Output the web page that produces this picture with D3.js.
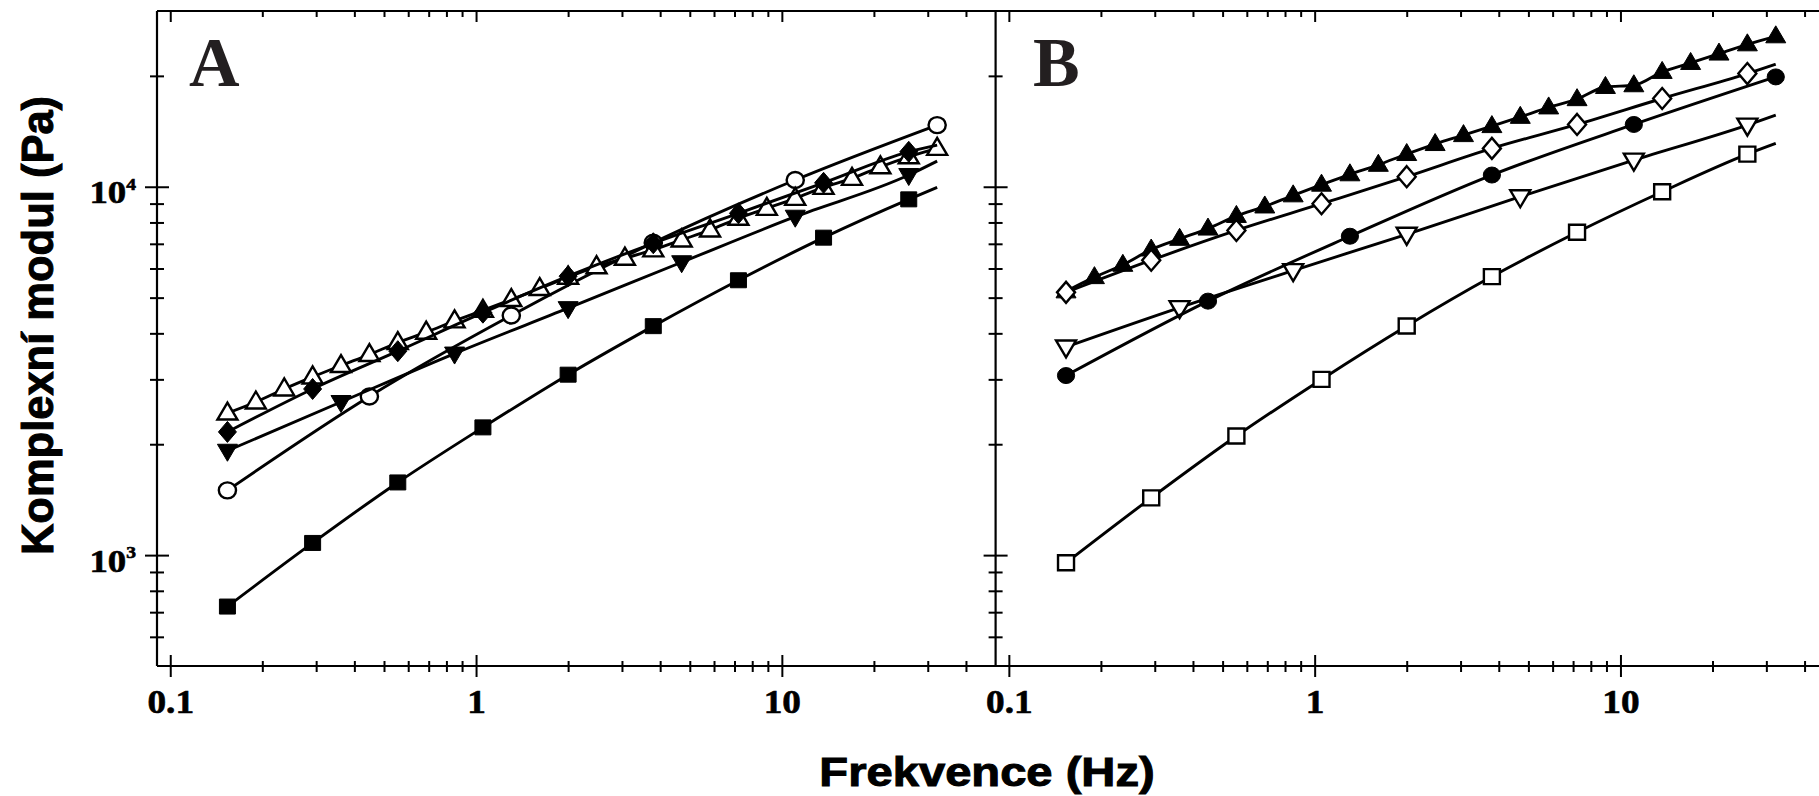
<!DOCTYPE html>
<html>
<head>
<meta charset="utf-8">
<script src="https://cdn.jsdelivr.net/npm/d3@7/dist/d3.min.js"></script>
<style>
  body { margin: 0; background: #fff; }
  svg { display: block; }
</style>
</head>
<body>
<svg id="chart"></svg>
<script>
// frequency sweep (Hz), one value per measured point
const freq = [0.1538, 0.1905, 0.2359, 0.2921, 0.3617, 0.4479, 0.5547, 0.6869, 0.8506, 1.053,
  1.304, 1.615, 2.0, 2.477, 3.067, 3.798, 4.703, 5.824, 7.212, 8.93,
  11.06, 13.69, 16.96, 21.0, 26.0, 32.2];

// panel A  (at = index into freq, val = modulus in Pa)
const aCircAt = [0, 5, 10, 15, 20, 25];
const aCircVal = [1499, 2696, 4472, 7050, 10430, 14700];
const aTriAt = [0, 1, 2, 3, 4, 5, 6, 7, 8, 9, 10, 11, 12, 13, 14, 15, 16, 17, 18, 19, 20, 21, 22, 23, 24, 25];
const aTriVal = [2430, 2604, 2825, 3046, 3270, 3503, 3776, 4029, 4323, 4620, 4941, 5293, 5681,
  6066, 6397, 6740, 7172, 7634, 8211, 8738, 9302, 9963, 10540, 11330, 12060, 12710];
const aDownAt = [0, 4, 8, 12, 16, 20, 24, 25];
const aDownVal = [1920, 2604, 3525, 4682, 6238, 8292, 10760, 11740];
const aSqAt = [0, 3, 6, 9, 12, 15, 18, 21, 24, 25];
const aSqVal = [725, 1079, 1575, 2222, 3089, 4184, 5574, 7274, 9243, 9960];
const aDiaAt = [0, 3, 6, 9, 12, 15, 18, 21, 24, 25];
const aDiaVal = [2160, 2825, 3578, 4552, 5717, 7025, 8470, 10250, 12440, 12970];

// panel B
const bTriAt = [0, 1, 2, 3, 4, 5, 6, 7, 8, 9, 10, 11, 12, 13, 14, 15, 16, 17, 18, 19, 20, 21, 22, 23, 24, 25];
const bTriVal = [5200, 5684, 6139, 6755, 7222, 7700, 8333, 8841, 9478, 10130, 10810, 11470, 12270,
  13060, 13810, 14610, 15480, 16420, 17290, 18660, 18860, 20500, 21680, 22990, 24360, 25610];
const bDiaAt = [0, 3, 6, 9, 12, 15, 18, 21, 24, 25];
const bDiaVal = [5168, 6317, 7610, 8993, 10650, 12710, 14760, 17360, 20290, 21500];
const bCircAt = [0, 5, 10, 15, 20, 25];
const bCircVal = [3072, 4892, 7340, 10760, 14760, 19870];
const bDownAt = [0, 4, 8, 12, 16, 20, 24, 25];
const bDownVal = [3673, 4697, 5920, 7430, 9395, 11810, 14700, 15640];
const bSqAt = [0, 3, 6, 9, 12, 15, 18, 21, 24, 25];
const bSqVal = [953, 1430, 2105, 2999, 4188, 5703, 7522, 9692, 12260, 13110];

// ticks
const xMajor = [0.1, 1, 10];
const xMinor = [0.2, 0.3, 0.4, 0.5, 0.6, 0.7, 0.8, 0.9, 2, 3, 4, 5, 6, 7, 8, 9, 20, 30, 40];
const yMajor = [1000, 10000];
const yMajorExp = ['3', '4'];
const yMinor = [600, 700, 800, 900, 2000, 3000, 4000, 5000, 6000, 7000, 8000, 9000, 20000];

// series tables (drawing order), marks = how many leading points carry a symbol
const panelA = [
  {at: aCircAt, val: aCircVal, marks: 6, shape: 'circle', open: true},
  {at: aTriAt, val: aTriVal, marks: 26, shape: 'triUp', open: true},
  {at: aDownAt, val: aDownVal, marks: 7, shape: 'triDown', open: false},
  {at: aSqAt, val: aSqVal, marks: 9, shape: 'square', open: false},
  {at: aDiaAt, val: aDiaVal, marks: 9, shape: 'diamond', open: false}
];
const panelB = [
  {at: bTriAt, val: bTriVal, marks: 26, shape: 'triUp', open: false},
  {at: bDiaAt, val: bDiaVal, marks: 9, shape: 'diamond', open: true},
  {at: bDownAt, val: bDownVal, marks: 7, shape: 'triDown', open: true},
  {at: bCircAt, val: bCircVal, marks: 6, shape: 'circle', open: false},
  {at: bSqAt, val: bSqVal, marks: 9, shape: 'square', open: true}
];

const width = 1819, height = 796;
const topY = 11, bottomY = 666;
const svg = d3.select('#chart').attr('width', width).attr('height', height);

const y = d3.scaleLog().domain([500, 30000]).range([bottomY, topY]);
const xA = d3.scaleLog().domain([0.0905, 50]).range([157, 995.6]);
const xB = d3.scaleLog().domain([0.0905, 50]).range([995.6, 1834.2]);

function symbolPath(shape) {
  if (shape === 'square') return 'M-8,-7.5H8V7.5H-8Z';
  if (shape === 'circle') return 'M-8.6,0A8.6,8 0 1,0 8.6,0A8.6,8 0 1,0 -8.6,0Z';
  if (shape === 'triUp') return 'M0,-10.5L10,6.5L-10,6.5Z';
  if (shape === 'triDown') return 'M0,10.5L10,-6.5L-10,-6.5Z';
  return 'M0,-10.5L9,0L0,10.5L-9,0Z';
}

function drawSeries(x, s) {
  let pts = s.at.map((k, i) => [x(freq[k]), y(s.val[i])]);
  let g = svg.append('g');
  g.append('path')
    .attr('d', d3.line().curve(d3.curveMonotoneX)(pts))
    .attr('fill', 'none')
    .attr('stroke', '#000')
    .attr('stroke-width', 2.9);
  g.selectAll('.mk')
    .data(pts.slice(0, s.marks))
    .join('path')
    .attr('class', 'mk')
    .attr('transform', d => `translate(${d[0]},${d[1]})`)
    .attr('d', symbolPath(s.shape))
    .attr('fill', s.open ? '#fff' : '#000')
    .attr('stroke', '#000')
    .attr('stroke-width', s.open ? 2.4 : 1);
}

function drawXTicks(x) {
  // bottom: crossing ticks
  let bMin = svg.append('g').attr('transform', `translate(0,${bottomY})`)
    .call(d3.axisBottom(x).tickValues(xMinor).tickSize(6).tickFormat(''));
  bMin.selectAll('line').attr('y1', -5);
  let bMaj = svg.append('g').attr('transform', `translate(0,${bottomY})`)
    .call(d3.axisBottom(x).tickValues(xMajor).tickSize(11).tickFormat(d => d3.format('~g')(d)));
  bMaj.selectAll('line').attr('y1', -11);
  bMaj.selectAll('text')
    .attr('y', 47).attr('dy', null)
    .attr('transform', 'scale(1.13,1)')
    .attr('stroke', '#000').attr('stroke-width', 0.6)
    .style('font-family', '"Liberation Serif", "Times New Roman", serif')
    .style('font-weight', 'bold')
    .style('font-size', '33px')
    .attr('fill', '#000');
  // top: inward ticks only
  svg.append('g').attr('transform', `translate(0,${topY})`)
    .call(d3.axisBottom(x).tickValues(xMinor).tickSize(6).tickFormat(''));
  svg.append('g').attr('transform', `translate(0,${topY})`)
    .call(d3.axisBottom(x).tickValues(xMajor).tickSize(11).tickFormat(''));
}

function drawYTicks(x0, labels) {
  let yMin = svg.append('g').attr('transform', `translate(${x0},0)`)
    .call(d3.axisLeft(y).tickValues(yMinor).tickSize(7).tickFormat(''));
  yMin.selectAll('line').attr('x1', 7);
  let yMaj = svg.append('g').attr('transform', `translate(${x0},0)`)
    .call(d3.axisLeft(y).tickValues(yMajor).tickSize(12).tickFormat(''));
  yMaj.selectAll('line').attr('x1', 12);
  if (labels) {
    yMaj.selectAll('.tick').each(function(d, i) {
      let t = d3.select(this).append('text')
        .attr('transform', 'translate(-21,16) scale(1.15,1)')
        .attr('text-anchor', 'end')
        .attr('fill', '#000')
        .attr('stroke', '#000').attr('stroke-width', 0.6)
        .style('font-family', '"Liberation Serif", "Times New Roman", serif')
        .style('font-weight', 'bold');
      t.append('tspan').style('font-size', '32px').text('10');
      t.append('tspan').style('font-size', '17px').attr('dy', -13.5).text(yMajorExp[i]);
    });
  }
}

// series first, axes and frame on top
panelA.forEach(s => drawSeries(xA, s));
panelB.forEach(s => drawSeries(xB, s));

drawXTicks(xA);
drawXTicks(xB);
drawYTicks(157, true);
drawYTicks(995.6, false);

svg.selectAll('.domain').remove();
svg.selectAll('.tick line').attr('stroke', '#000').attr('stroke-width', 2);

// frame
let frame = svg.append('g').attr('stroke', '#000').attr('stroke-width', 2.2).attr('fill', 'none');
frame.append('line').attr('x1', 157).attr('x2', width).attr('y1', topY).attr('y2', topY);
frame.append('line').attr('x1', 157).attr('x2', width).attr('y1', bottomY).attr('y2', bottomY);
frame.append('line').attr('x1', 157).attr('x2', 157).attr('y1', topY).attr('y2', bottomY);
frame.append('line').attr('x1', 995.6).attr('x2', 995.6).attr('y1', topY).attr('y2', bottomY);

// panel letters
svg.append('text').attr('x', 189).attr('y', 86).text('A')
  .attr('fill', '#231f20')
  .style('font-family', '"Liberation Serif", "Times New Roman", serif')
  .style('font-weight', 'bold').style('font-size', '70px');
svg.append('text').attr('x', 1033).attr('y', 86).text('B')
  .attr('fill', '#231f20')
  .style('font-family', '"Liberation Serif", "Times New Roman", serif')
  .style('font-weight', 'bold').style('font-size', '70px');

// axis titles
svg.append('text')
  .attr('transform', 'translate(987,786) scale(1.15,1)')
  .attr('text-anchor', 'middle')
  .attr('stroke', '#000').attr('stroke-width', 1)
  .text('Frekvence (Hz)')
  .style('font-family', '"Liberation Sans", Arial, sans-serif')
  .style('font-weight', 'bold').style('font-size', '41px');
svg.append('text')
  .attr('transform', 'translate(53,325.5) rotate(-90)')
  .attr('text-anchor', 'middle')
  .attr('stroke', '#000').attr('stroke-width', 1)
  .text('Komplexní modul (Pa)')
  .style('font-family', '"Liberation Sans", Arial, sans-serif')
  .style('font-weight', 'bold').style('font-size', '43.5px');
</script>
</body>
</html>
